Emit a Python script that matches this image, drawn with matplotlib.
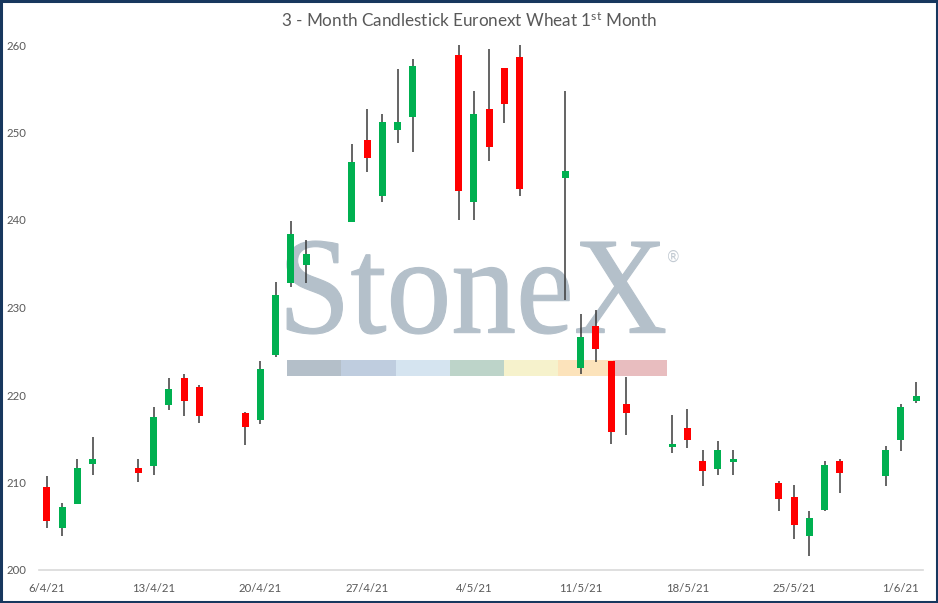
import matplotlib
matplotlib.use("Agg")
import matplotlib.pyplot as plt
import matplotlib.dates as mdates
from matplotlib.textpath import TextPath
from matplotlib.patches import PathPatch, Rectangle
from matplotlib.font_manager import FontProperties
from matplotlib.transforms import Affine2D
import numpy as np
import datetime as dt

# ---------------- data ----------------
dates = [
    "2021-04-06", "2021-04-07", "2021-04-08", "2021-04-09",
    "2021-04-12", "2021-04-13", "2021-04-14", "2021-04-15", "2021-04-16",
    "2021-04-19", "2021-04-20", "2021-04-21", "2021-04-22", "2021-04-23",
    "2021-04-26", "2021-04-27", "2021-04-28", "2021-04-29", "2021-04-30",
    "2021-05-03", "2021-05-04", "2021-05-05", "2021-05-06", "2021-05-07",
    "2021-05-10", "2021-05-11", "2021-05-12", "2021-05-13", "2021-05-14",
    "2021-05-17", "2021-05-18", "2021-05-19", "2021-05-20", "2021-05-21",
    "2021-05-24", "2021-05-25", "2021-05-26", "2021-05-27", "2021-05-28",
    "2021-05-31", "2021-06-01", "2021-06-02",
]
opens = [209.5, 204.8, 207.6, 212.1,
         211.7, 211.9, 218.9, 221.9, 220.9,
         217.9, 217.1, 224.6, 232.8, 234.9,
         239.8, 249.1, 242.8, 250.3, 251.8,
         258.9, 242.1, 252.7, 257.4, 258.6,
         244.8, 223.1, 227.9, 223.9, 219.0,
         214.1, 216.2, 212.5, 211.6, 212.4,
         209.9, 208.3, 203.9, 206.9, 212.5,
         210.7, 214.9, 219.3]
highs = [210.7, 207.7, 212.7, 215.2,
         212.7, 218.6, 221.9, 222.4, 221.1,
         218.1, 223.9, 232.9, 239.9, 237.7,
         248.7, 252.7, 252.1, 257.3, 258.4,
         260.0, 254.8, 259.6, 257.4, 260.0,
         254.8, 229.3, 229.7, 223.9, 222.1,
         217.7, 218.4, 213.7, 214.7, 213.7,
         210.2, 209.7, 206.7, 212.5, 212.7,
         214.2, 219.0, 221.5]
lows = [204.8, 203.9, 207.6, 210.9,
        210.1, 210.9, 218.3, 217.6, 216.8,
        214.3, 216.7, 224.4, 232.4, 232.8,
        239.8, 245.5, 242.1, 248.8, 247.8,
        240.0, 240.0, 246.8, 251.1, 242.8,
        230.9, 222.4, 223.8, 214.4, 215.4,
        213.4, 213.9, 209.6, 210.9, 210.9,
        206.7, 203.6, 201.6, 206.7, 208.8,
        209.6, 213.6, 219.1]
closes = [205.6, 207.2, 211.7, 212.7,
          211.1, 217.5, 220.7, 219.3, 217.6,
          216.4, 223.0, 231.4, 238.4, 236.1,
          246.6, 247.1, 251.2, 251.2, 257.6,
          243.3, 252.1, 248.3, 253.3, 243.6,
          245.6, 226.6, 225.3, 215.8, 217.9,
          214.4, 214.9, 211.3, 213.7, 212.7,
          208.1, 205.2, 205.9, 212.0, 211.1,
          213.7, 218.6, 219.9]
tick_dates = ["2021-04-06", "2021-04-13", "2021-04-20", "2021-04-27",
              "2021-05-04", "2021-05-11", "2021-05-18", "2021-05-25",
              "2021-06-01"]
tick_labels = ["6/4/21", "13/4/21", "20/4/21", "27/4/21", "4/5/21",
               "11/5/21", "18/5/21", "25/5/21", "1/6/21"]
y_ticks = [200, 210, 220, 230, 240, 250, 260]
title = "3 - Month Candlestick Euronext Wheat $1^{\\mathrm{st}}$ Month"

# ---------------- style ----------------
plt.rcParams["font.family"] = ["Lato", "DejaVu Sans"]
plt.rcParams["mathtext.fontset"] = "custom"
plt.rcParams["mathtext.rm"] = "Lato"
plt.rcParams["mathtext.it"] = "Lato:italic"
plt.rcParams["mathtext.bf"] = "Lato:bold"

GREEN = "#00b050"
RED = "#ff0000"
WICK = "#3a3a3a"
TXT = "#595959"

W, H = 938, 603
fig = plt.figure(figsize=(W / 100, H / 100), dpi=100)
fig.patch.set_facecolor("white")
ax = fig.add_axes([39 / W, 33 / H, (923 - 39) / W, (570 - 45) / H])
ax.patch.set_visible(False)

to_num = lambda lst: mdates.date2num([dt.datetime.strptime(d, "%Y-%m-%d") for d in lst])
x = to_num(dates)
o = np.array(opens); c = np.array(closes)
h = np.array(highs); l = np.array(lows)
up = c >= o
cols = np.where(up, GREEN, RED)
body_bottom = np.minimum(o, c)
body_h = np.maximum(np.abs(c - o), 0.25)

ax.vlines(x, l, h, color=WICK, lw=1.1, zorder=3)
ax.bar(x, body_h, bottom=body_bottom, width=0.46, color=cols, zorder=4, linewidth=0)

ax.set_xlim(x[0] - 0.52, x[-1] + 0.45)
ax.set_ylim(200, 260)
ax.set_yticks(y_ticks)
ax.set_xticks(to_num(tick_dates))
ax.set_xticklabels(tick_labels)
ax.tick_params(axis="both", length=0, labelsize=8.2, colors=TXT)
ax.tick_params(axis="x", pad=9)
ax.tick_params(axis="y", pad=9)
for s in ["top", "right", "left"]:
    ax.spines[s].set_visible(False)
ax.spines["bottom"].set_color("#d9d9d9")
ax.spines["bottom"].set_linewidth(1.2)

# ---------------- watermark ----------------
tp = TextPath((0, 0), "StoneX", size=100, prop=FontProperties(family="Liberation Serif"))
ext = tp.get_extents()
x0f, x1f = 287 / W, 665 / W
ybf, ytf = 1 - 334 / H, 1 - 241 / H
tr = (Affine2D().translate(-ext.x0, -ext.y0)
      .scale((x1f - x0f) / ext.width, (ytf - ybf) / ext.height)
      .translate(x0f, ybf)) + fig.transFigure
ax.add_patch(PathPatch(tp, transform=tr, facecolor="#b4c0ca", edgecolor="#b4c0ca",
                       linewidth=0.8, zorder=1, clip_on=False))
fig.text(673 / W, 1 - 257 / H, "\u00ae", fontsize=10.5, color="#c3cbd3",
         ha="center", va="center", family="DejaVu Sans")
bar_cols = ["#b4bfc9", "#bfcddf", "#d5e4f0", "#bdd4c9", "#f6f2cc", "#fce3bb", "#e8bdbf"]
bx0, bx1 = 287, 667
seg = (bx1 - bx0) / len(bar_cols)
for i, bc in enumerate(bar_cols):
    ax.add_patch(Rectangle(((bx0 + i * seg) / W, 1 - 376 / H), seg / W, 16 / H,
                           transform=fig.transFigure, facecolor=bc, edgecolor="none",
                           zorder=1, clip_on=False))

# ---------------- title & border ----------------
fig.text(469 / W, 1 - 21 / H, title, ha="center", va="center", fontsize=12.3, color=TXT)
fig.add_artist(Rectangle((0.6 / W, 0.8 / H), (W - 1.8) / W, (H - 1.8) / H,
                         transform=fig.transFigure, fill=False,
                         edgecolor="#17375e", linewidth=2.2, zorder=10))

fig.savefig("out.png", dpi=100, facecolor="white")
